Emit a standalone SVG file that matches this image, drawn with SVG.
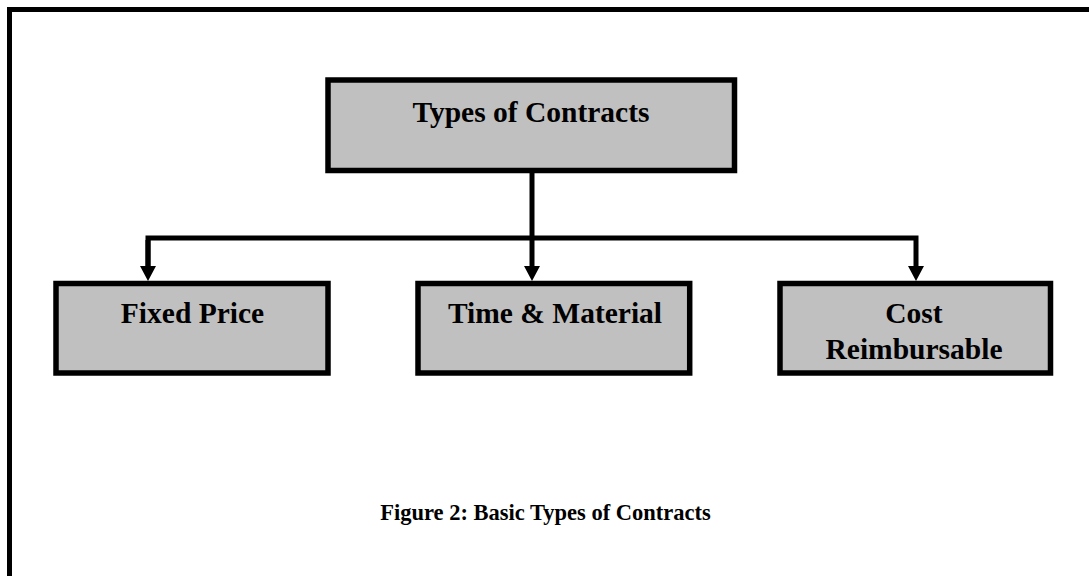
<svg xmlns="http://www.w3.org/2000/svg" width="1089" height="576" viewBox="0 0 1089 576">
  <style>
    .box { fill: #c0c0c0; stroke: #000; stroke-width: 5.5; }
    .label { font-family: "Liberation Serif", "Times New Roman", serif; font-weight: bold; font-size: 29.5px; fill: #000; text-anchor: middle; }
    .caption { font-family: "Liberation Serif", "Times New Roman", serif; font-weight: bold; font-size: 22.5px; fill: #000; text-anchor: middle; }
    .wire { fill: none; stroke: #000; stroke-width: 5; stroke-linejoin: miter; }
  </style>
  <defs>
    <marker id="arrow" markerUnits="userSpaceOnUse" markerWidth="15" markerHeight="16" viewBox="0 0 15 16" refX="4" refY="8" orient="auto">
      <path d="M0,0 L15,8 L0,16 Z" fill="#000"/>
    </marker>
  </defs>

  <rect width="1089" height="576" fill="#fff"/>

  <!-- page frame (left and top edges) -->
  <path d="M9.5,576 V9.5 H1089" fill="none" stroke="#000" stroke-width="5"/>

  <g id="connectors">
    <path class="wire" d="M532,170 V270" marker-end="url(#arrow)"/>
    <path class="wire" d="M148,270 V238 H916 V270" marker-end="url(#arrow)"/>
    <path class="wire" d="M148,240 V270" marker-end="url(#arrow)"/>
  </g>

  <g id="types-of-contracts">
    <rect class="box" x="328" y="80" width="406.5" height="90.5"/>
    <text class="label" x="531" y="121.5">Types of Contracts</text>
  </g>

  <g id="fixed-price">
    <rect class="box" x="56" y="283.5" width="272" height="89.5"/>
    <text class="label" x="192.5" y="323.3">Fixed Price</text>
  </g>

  <g id="time-material">
    <rect class="box" x="418" y="283.5" width="271.7" height="89.5"/>
    <text class="label" x="555" y="323.3">Time &amp; Material</text>
  </g>

  <g id="cost-reimbursable">
    <rect class="box" x="780" y="283.5" width="270.5" height="89.5"/>
    <text class="label" x="914" y="323">Cost</text>
    <text class="label" x="914" y="359">Reimbursable</text>
  </g>

  <text class="caption" x="545.5" y="520">Figure 2: Basic Types of Contracts</text>
</svg>
